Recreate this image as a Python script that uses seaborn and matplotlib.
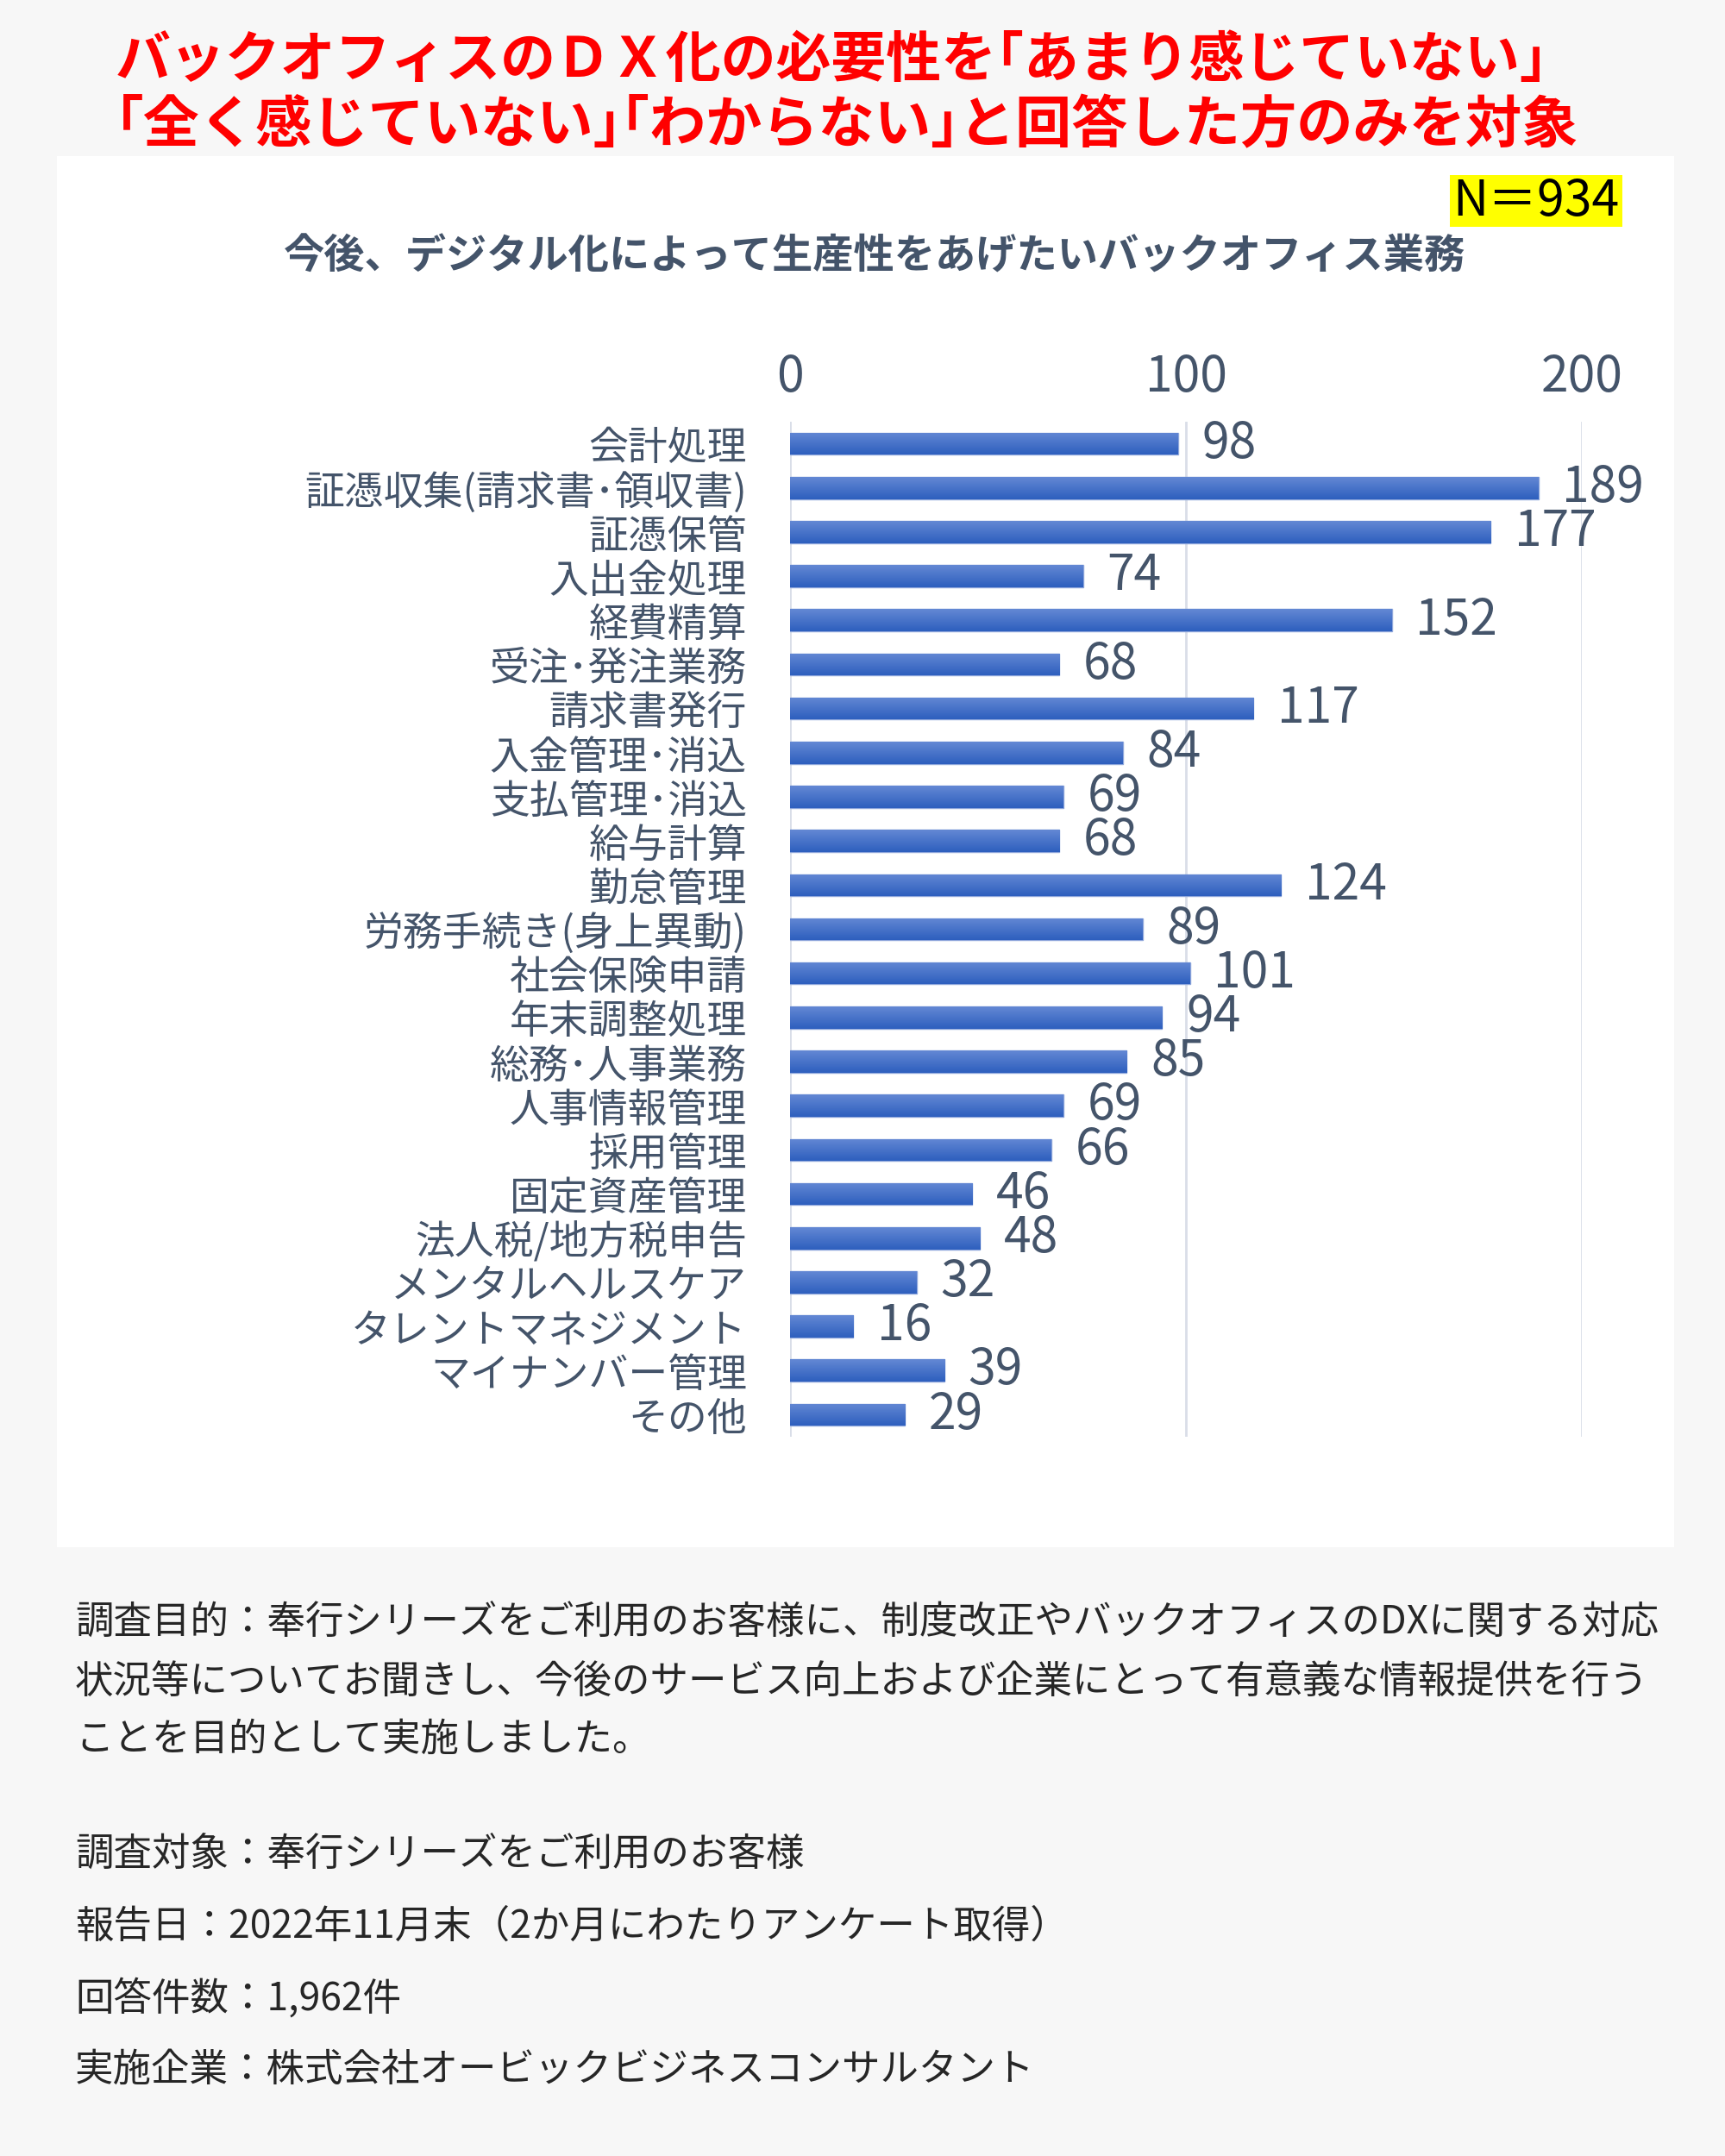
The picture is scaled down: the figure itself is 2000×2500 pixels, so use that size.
import matplotlib
matplotlib.use('Agg')
import matplotlib.pyplot as plt
from matplotlib.patches import Rectangle
from matplotlib.colors import LinearSegmentedColormap
import numpy as np
import seaborn as sns

# data
categories = ['会計処理', '証憑収集(請求書･領収書)', '証憑保管', '入出金処理', '経費精算',
              '受注･発注業務', '請求書発行', '入金管理･消込', '支払管理･消込', '給与計算',
              '勤怠管理', '労務手続き(身上異動)', '社会保険申請', '年末調整処理', '総務･人事業務',
              '人事情報管理', '採用管理', '固定資産管理', '法人税/地方税申告', 'メンタルヘルスケア',
              'タレントマネジメント', 'マイナンバー管理', 'その他']
values = [98, 189, 177, 74, 152, 68, 117, 84, 69, 68, 124, 89, 101, 94, 85, 69, 66, 46, 48, 32, 16, 39, 29]
x_ticks = [0, 100, 200]

title_lines = ['バックオフィスのＤＸ化の必要性を｢あまり感じていない｣',
               '｢全く感じていない｣｢わからない｣と回答した方のみを対象']
subtitle = '今後、デジタル化によって生産性をあげたいバックオフィス業務'
n_label = 'N＝934'
footer_lines = ['調査目的：奉行シリーズをご利用のお客様に、制度改正やバックオフィスのDXに関する対応',
                '状況等についてお聞きし、今後のサービス向上および企業にとって有意義な情報提供を行う',
                'ことを目的として実施しました。',
                '調査対象：奉行シリーズをご利用のお客様',
                '報告日：2022年11月末（2か月にわたりアンケート取得）',
                '回答件数：1,962件',
                '実施企業：株式会社オービックビジネスコンサルタント']
footer_y = [1882, 1950, 2017, 2150, 2234, 2317, 2400]

sns.set_theme(style='white')
plt.rcParams['font.family'] = ['Noto Sans CJK JP', 'DejaVu Sans']

W, H = 2000, 2500
slate = '#44546a'

fig = plt.figure(figsize=(20, 25), dpi=100, facecolor='#f7f7f7')

# white chart panel (behind the axes)
fig.patches.append(Rectangle((66 / W, 1 - 1794 / H), (1941 - 66) / W, (1794 - 181) / H,
                             transform=fig.transFigure, facecolor='white', edgecolor='none', zorder=-2))

# red headline
fig.text(134 / W, 1 - 70 / H, title_lines[0], color='#ff0000', fontsize=46, fontweight='bold', va='center')
fig.text(134 / W, 1 - 146 / H, title_lines[1], color='#ff0000', fontsize=47, fontweight='bold', va='center')

# N box
fig.patches.append(Rectangle((1681 / W, 1 - 263 / H), 200 / W, 60 / H,
                             transform=fig.transFigure, facecolor='#ffff00', edgecolor='none', zorder=-1))
fig.text(1781 / W, 1 - 234 / H, n_label, color='black', fontsize=41, ha='center', va='center', zorder=2)

fig.text(1014 / W, 1 - 298 / H, subtitle, color=slate, fontsize=34, fontweight='bold', ha='center', va='center')

# ── bar chart ──
ax = fig.add_axes([916 / W, 1 - 1666 / H, 918 / W, (1666 - 489) / H])
ax.set_facecolor('none')
sns.barplot(x=values, y=categories, orient='h', color='#3f69c6', width=0.5, ax=ax, zorder=2)

# vertical gradient on each bar
grad = np.linspace(0, 1, 64).reshape(-1, 1)
cmap = LinearSegmentedColormap.from_list('bar', ['#6388d4', '#2e5fbe'])
for p in ax.patches:
    x0, y0, w, h = p.get_x(), p.get_y(), p.get_width(), p.get_height()
    p.set_edgecolor('#8ea6db')
    p.set_linewidth(1)
    im = ax.imshow(grad, extent=[x0, x0 + w, y0 + h, y0], aspect='auto', cmap=cmap, zorder=3)
    im.set_clip_path(p)

ax.bar_label(ax.containers[0], labels=[str(v) for v in values], padding=20,
             fontsize=41, color=slate)

ax.set_xlim(0, 200)
ax.set_ylim(len(categories) - 0.5, -0.5)
ax.set_xticks(x_ticks)
ax.xaxis.tick_top()
ax.tick_params(axis='x', length=0, pad=16, labelsize=41, labelcolor=slate)
ax.tick_params(axis='y', length=0, pad=36, labelsize=33, labelcolor=slate)
ax.grid(axis='x', color='#d9dee8', linewidth=2)
ax.grid(axis='y', visible=False)
ax.set_axisbelow(True)
for s in ax.spines.values():
    s.set_visible(False)
ax.set_xlabel('')
ax.set_ylabel('')

# footer notes
for txt, y in zip(footer_lines, footer_y):
    fig.text(87 / W, 1 - y / H, txt, color='#262626', fontsize=32, va='center')

plt.savefig('out.png', dpi=100, facecolor=fig.get_facecolor())
plt.close()
